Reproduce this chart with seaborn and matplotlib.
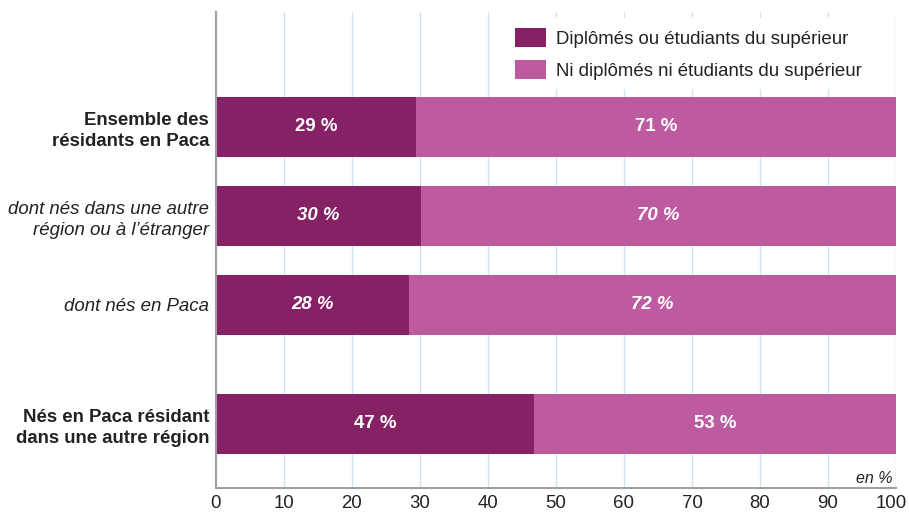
import pandas as pd
import matplotlib
matplotlib.use("Agg")
import matplotlib.pyplot as plt
import matplotlib.transforms as mtransforms
import seaborn as sns

# data (share of each group, in %)
categories = ["Ensemble des\nrésidants en Paca",
              "dont nés dans une autre\nrégion ou à l’étranger",
              "dont nés en Paca",
              "Nés en Paca résidant\ndans une autre région"]
diplomes = [29.4, 30.1, 28.4, 46.7]
series_names = ["Diplômés ou étudiants du supérieur",
                "Ni diplômés ni étudiants du supérieur"]
xticks = [0, 10, 20, 30, 40, 50, 60, 70, 80, 90, 100]

# layout
ypos = [0, 1, 2, 3.34]
label_weight = ["bold", "normal", "normal", "bold"]
label_style = ["normal", "italic", "italic", "normal"]
dark = "#862165"
light = "#BE5AA0"
fs = 13.4

df = pd.DataFrame({"cat": categories, "pos": ypos, "dip": diplomes})
df["total"] = 100.0
df["non"] = df["total"] - df["dip"]

sns.set_theme(style="white")
plt.rcParams["font.family"] = ["Liberation Sans", "DejaVu Sans"]

fig = plt.figure(figsize=(9.09, 5.12), dpi=100)
ax = fig.add_axes([0.2376, 0.0469, 0.7481, 0.9297])

sns.barplot(data=df, x="total", y="pos", orient="h", native_scale=True,
            color=light, saturation=1, width=0.67, linewidth=0,
            label=series_names[1], ax=ax)
sns.barplot(data=df, x="dip", y="pos", orient="h", native_scale=True,
            color=dark, saturation=1, width=0.67, linewidth=0,
            label=series_names[0], ax=ax)

# value labels
for i, row in df.iterrows():
    st = label_style[i]
    ax.text(row["dip"] / 2, row["pos"], f"{round(row['dip'])} %", color="white",
            fontsize=fs, fontweight="bold", style=st, ha="center", va="center")
    ax.text(row["dip"] + row["non"] / 2, row["pos"], f"{round(row['non'])} %",
            color="white", fontsize=fs, fontweight="bold", style=st,
            ha="center", va="center")

ax.set_xlim(0, 100)
ax.set_ylim(4.06, -1.29)
ax.set_xticks(xticks)
ax.set_xticklabels([str(t) for t in xticks], fontsize=fs, color="#222222")
ax.set_yticks(ypos)
ax.set_yticklabels(categories, fontsize=fs, color="#222222", linespacing=1.3)
for lab, w, s in zip(ax.get_yticklabels(), label_weight, label_style):
    lab.set_fontweight(w)
    lab.set_fontstyle(s)
ax.tick_params(axis="both", length=0)
ax.tick_params(axis="y", pad=5)
ax.tick_params(axis="x", pad=5)
ax.set_xlabel("")
ax.set_ylabel("")

# keep "100" inside the figure
last = ax.get_xticklabels()[-1]
last.set_transform(last.get_transform() +
                   mtransforms.ScaledTranslation(-5 / 100, 0, fig.dpi_scale_trans))

ax.grid(axis="x", color="#C8E4F6", linewidth=0.9)
ax.set_axisbelow(True)
for side in ["top", "right"]:
    ax.spines[side].set_visible(False)
for side in ["left", "bottom"]:
    ax.spines[side].set_color("#A0A0A0")
    ax.spines[side].set_linewidth(1.5)

handles, labels = ax.get_legend_handles_labels()
order = [labels.index(n) for n in series_names]
leg = ax.legend([handles[k] for k in order], [labels[k] for k in order],
                loc="upper left", bbox_to_anchor=(0.4125, 1.006), fontsize=fs,
                frameon=True, facecolor="white", edgecolor="none", framealpha=1,
                fancybox=False, handlelength=1.66, handleheight=1.2,
                handletextpad=0.54, labelspacing=0.66, borderpad=0.5)
for t in leg.get_texts():
    t.set_color("#222222")

ax.text(99.5, 4.04, "en %", style="italic", fontsize=11.5, color="#222222",
        ha="right", va="bottom")

fig.savefig("out.png", dpi=100)
